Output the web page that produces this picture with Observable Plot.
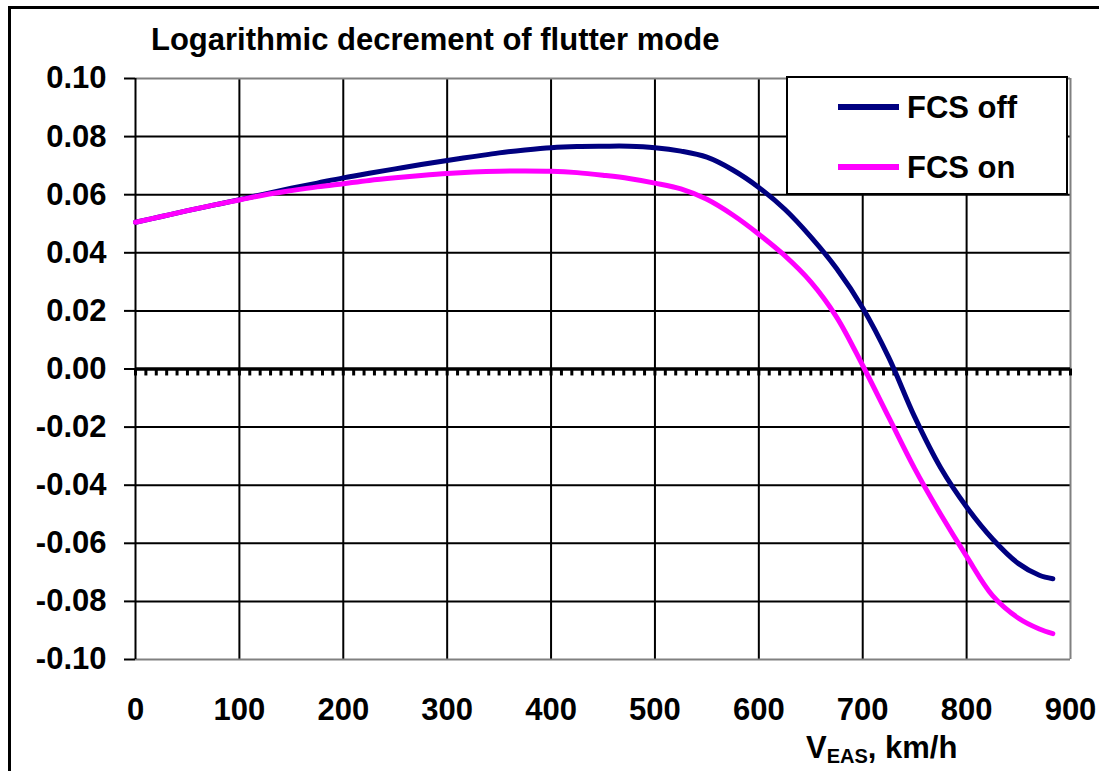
<!DOCTYPE html>
<html>
<head>
<meta charset="utf-8">
<script src="https://cdn.jsdelivr.net/npm/d3@7"></script>
<script src="https://cdn.jsdelivr.net/npm/@observablehq/plot@0.6"></script>
<style>
  html, body { margin: 0; padding: 0; background: #fff; }
  #wrap { position: relative; width: 1099px; height: 771px; overflow: hidden;
          font-family: "Liberation Sans", Arial, sans-serif; font-weight: bold; color: #000; }
  #wrap svg { position: absolute; left: 0; top: 0; }
  .frame { position: absolute; left: 8px; top: 6px; width: 1200px; height: 900px;
           border-left: 3px solid #000; border-top: 3px solid #000; }
  .title { position: absolute; left: 151px; top: 24px; font-size: 31px; line-height: 31px; white-space: nowrap; }
  .xlabel { position: absolute; left: 806px; top: 732px; font-size: 31px; line-height: 31px; white-space: nowrap; }
  .xlabel sub { font-size: 20px; vertical-align: -5px; }
  .legend { position: absolute; left: 786px; top: 76px; width: 278px; height: 115px;
            background: #fff; border: 2px solid #000; }
  .legend .row { position: absolute; left: 0; height: 31px; }
  .legend .swatch { position: absolute; left: 50px; width: 61px; height: 6px; }
  .legend .lbl { position: absolute; left: 119px; top: 0; font-size: 31px; line-height: 31px; white-space: nowrap; }
</style>
</head>
<body>
<div id="wrap">
  <div class="frame"></div>
</div>
<script>
// Airspeed V_EAS (km/h) and logarithmic decrement of the flutter mode
const speeds = [0, 25, 50, 75, 100, 125, 150, 175, 200, 225, 250, 275, 300, 325, 350, 375, 400,
  425, 450, 475, 500, 525, 550, 575, 600, 625, 650, 675, 700, 725, 750, 775, 800, 825, 850, 870, 883];
const fcsOff = [0.0505, 0.0525, 0.0545, 0.0564, 0.0583, 0.0603, 0.0622, 0.0640, 0.0658, 0.0674,
  0.0689, 0.0704, 0.0718, 0.0731, 0.0744, 0.0754, 0.0762, 0.0766, 0.0767, 0.0767, 0.0762,
  0.0750, 0.0729, 0.0685, 0.0625, 0.0550, 0.0455, 0.0345, 0.0210, 0.0040, -0.0165, -0.0340,
  -0.0475, -0.0585, -0.0670, -0.0710, -0.0722];
const fcsOn = [0.0505, 0.0525, 0.0545, 0.0564, 0.0582, 0.0600, 0.0614, 0.0627, 0.0638, 0.0649,
  0.0658, 0.0666, 0.0673, 0.0678, 0.0681, 0.0682, 0.0681, 0.0676, 0.0667, 0.0656, 0.0640,
  0.0620, 0.0584, 0.0530, 0.0464, 0.0390, 0.0300, 0.0178, 0.0012, -0.0166, -0.0343, -0.0500,
  -0.0645, -0.0780, -0.0858, -0.0895, -0.0911];

const seriesNames = ["FCS off", "FCS on"];
const seriesColors = ["#000080", "#FF00FF"];

const xTicks = [0, 100, 200, 300, 400, 500, 600, 700, 800, 900];
const yTicks = [-0.10, -0.08, -0.06, -0.04, -0.02, 0.00, 0.02, 0.04, 0.06, 0.08, 0.10];
const minorTicks = d3.range(0, 901, 10);

const titleText = "Logarithmic decrement of flutter mode";

const rows = [];
speeds.forEach((v, i) => {
  rows.push({v, d: fcsOff[i], s: seriesNames[0]});
  rows.push({v, d: fcsOn[i], s: seriesNames[1]});
});

const innerX = xTicks.filter(t => t > 0 && t < 900);
const innerY = yTicks.filter(t => t !== 0 && Math.abs(t) < 0.1);

const chart = Plot.plot({
  width: 1099,
  height: 771,
  marginLeft: 135,
  marginRight: 29,
  marginTop: 78,
  marginBottom: 112,
  x: {domain: [0, 900]},
  y: {domain: [-0.1, 0.1]},
  color: {domain: seriesNames, range: seriesColors},
  style: {
    fontFamily: '"Liberation Sans", Arial, sans-serif',
    fontSize: "31px",
    fontWeight: "bold",
    color: "#000",
    background: "transparent"
  },
  marks: [
    // grid
    Plot.ruleX(innerX, {stroke: "#000", strokeWidth: 2}),
    Plot.ruleY(innerY, {stroke: "#000", strokeWidth: 2}),
    // plot border
    Plot.ruleY([0.1, -0.1], {stroke: "#808080", strokeWidth: 2}),
    Plot.ruleX([900], {stroke: "#808080", strokeWidth: 2}),
    Plot.ruleX([0], {stroke: "#000", strokeWidth: 2}),
    // zero line with its minor ticks
    Plot.ruleX(minorTicks, {y1: 0, y2: -0.0024, stroke: "#000", strokeWidth: 3}),
    Plot.ruleY([0], {stroke: "#000", strokeWidth: 3.5}),
    // axes
    Plot.axisY({ticks: yTicks, tickFormat: d => d.toFixed(2), tickSize: 11, tickPadding: 18,
      strokeWidth: 2, label: null}),
    Plot.axisX({ticks: xTicks, tickFormat: d => String(d), tickSize: 0, tickPadding: 38, label: null}),
    // curves
    Plot.line(rows, {x: "v", y: "d", z: "s", stroke: "s", strokeWidth: 5, curve: "catmull-rom"})
  ]
});

const wrap = document.getElementById("wrap");
wrap.appendChild(chart);

const title = document.createElement("div");
title.className = "title";
title.textContent = titleText;
wrap.appendChild(title);

const xlabel = document.createElement("div");
xlabel.className = "xlabel";
xlabel.innerHTML = "V<sub>EAS</sub>, km/h";
wrap.appendChild(xlabel);

const legend = document.createElement("div");
legend.className = "legend";
seriesNames.forEach((name, i) => {
  const row = document.createElement("div");
  row.className = "row";
  row.style.top = (i === 0 ? 14 : 74) + "px";
  const sw = document.createElement("div");
  sw.className = "swatch";
  sw.style.top = "12px";
  sw.style.background = seriesColors[i];
  const lb = document.createElement("div");
  lb.className = "lbl";
  lb.textContent = name;
  row.appendChild(sw);
  row.appendChild(lb);
  legend.appendChild(row);
});
wrap.appendChild(legend);
</script>
</body>
</html>
